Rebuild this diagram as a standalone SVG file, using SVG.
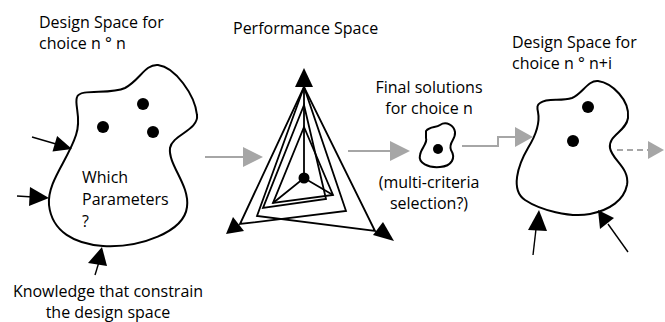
<svg xmlns="http://www.w3.org/2000/svg" width="665" height="322" viewBox="0 0 665 322">
<style>
text{font-family:"Open Sans","Noto Sans","Liberation Sans",sans-serif;font-size:16px;fill:#000}
.blob{fill:#fff;stroke:#000;stroke-width:2}
.dot{fill:#000}
.blk{stroke:#000;stroke-width:1.4;fill:none}
.head{fill:#000}
.gray{stroke:#a6a6a6;stroke-width:2;fill:none}
.ghead{fill:#a6a6a6}
.radar{stroke:#000;stroke-width:1.8;fill:none;stroke-linejoin:miter}
</style>
<rect width="665" height="322" fill="#fff"/>

<g id="design-space-n">
<text x="39" y="28">Design Space for</text>
<text x="39" y="49">choice n ° n</text>
<path class="blob" d="M77,97 C80,88 110,95 125,88 C140,80 145,64 158,65 C175,67 195,95 197,115 C199,130 172,135 170,148 C168,165 190,185 187,207 C184,232 140,248 103,246 C75,244 52,232 49,205 C47,182 68,160 76,135 C82,118 74,105 77,97 Z"/>
<circle class="dot" cx="143" cy="104" r="6"/>
<circle class="dot" cx="103" cy="127" r="6"/>
<circle class="dot" cx="153" cy="132" r="6"/>
<text x="82" y="183">Which</text>
<text x="82" y="205">Parameters</text>
<text x="82" y="227">?</text>
</g>

<g id="knowledge">
<text x="108" y="297" text-anchor="middle">Knowledge that constrain</text>
<text x="108" y="318" text-anchor="middle">the design space</text>
</g>

<g id="performance-space">
<text x="233" y="34">Performance Space</text>
<polygon class="head" points="304,68 295,87 313,87"/>
<polygon class="head" points="226,234 233,217 244,231"/>
<polygon class="head" points="394,241 383,222 373,235"/>
<line class="radar" x1="304" y1="87" x2="304" y2="178"/>
<polyline class="radar" points="273,203 304,178 333,195"/>
<polygon class="radar" points="304,87 240,224 346,211"/>
<polygon class="radar" points="304,87 257,216 375,231"/>
<polygon class="radar" points="304,105 263,208 326,199"/>
<polygon class="radar" points="304,127 273,203 333,195"/>
<circle class="dot" cx="304" cy="178" r="5.5"/>
</g>

<g id="final-solutions">
<text x="429" y="93" text-anchor="middle">Final solutions</text>
<text x="429" y="114" text-anchor="middle">for choice n</text>
<path class="blob" d="M426,131 C430,126 436,128 440,125 C446,121 454,125 455,132 C456,140 448,142 451,150 C456,158 452,166 440,167 C428,168 418,163 420,155 C421,148 428,143 426,138 Z"/>
<circle class="dot" cx="438" cy="149" r="5"/>
<text x="429" y="188" text-anchor="middle">(multi-criteria</text>
<text x="429" y="209" text-anchor="middle">selection?)</text>
</g>

<g id="design-space-n-i">
<text x="512" y="48">Design Space for</text>
<text x="512" y="69">choice n ° n+i</text>
<path class="blob" d="M540,103 C548,97 560,102 572,98 C582,94 588,80 598,81 C612,83 630,100 628,118 C626,132 608,135 610,148 C612,160 630,168 627,185 C624,200 610,210 590,214 C570,218 540,210 525,200 C510,190 518,165 528,148 C536,135 540,122 538,112 C537,107 537,105 540,103 Z"/>
<circle class="dot" cx="588" cy="107" r="6"/>
<circle class="dot" cx="573" cy="141" r="6"/>
</g>

<g id="connectors">
<line class="blk" x1="32" y1="137" x2="56" y2="144"/>
<polygon class="head" points="72,149 52.5,151.5 57.1,136.1"/>
<line class="blk" x1="17" y1="196" x2="33" y2="197"/>
<polygon class="head" points="49,198 30,187 29,206"/>
<line class="blk" x1="95" y1="275" x2="99" y2="262"/>
<polygon class="head" points="102,247 88,263 107,266"/>

<line class="gray" x1="205" y1="157" x2="245" y2="157"/>
<polygon class="ghead" points="263,157 243,147 243,167"/>
<line class="gray" x1="348" y1="151" x2="392" y2="151"/>
<polygon class="ghead" points="410,151 390,141 390,161"/>
<polyline class="gray" points="462,146 498,146 498,137 517,137"/>
<polygon class="ghead" points="533,137 515,127 515,147"/>
<line class="gray" x1="617" y1="150" x2="648" y2="150" stroke-dasharray="6,4"/>
<polygon class="ghead" points="664,150 648,141 648,159"/>

<line class="blk" x1="533" y1="255" x2="536" y2="229"/>
<polygon class="head" points="539,210 528,230 547,231"/>
<line class="blk" x1="628" y1="252" x2="608" y2="224"/>
<polygon class="head" points="598,210 600,229 614,218"/>
</g>
</svg>
